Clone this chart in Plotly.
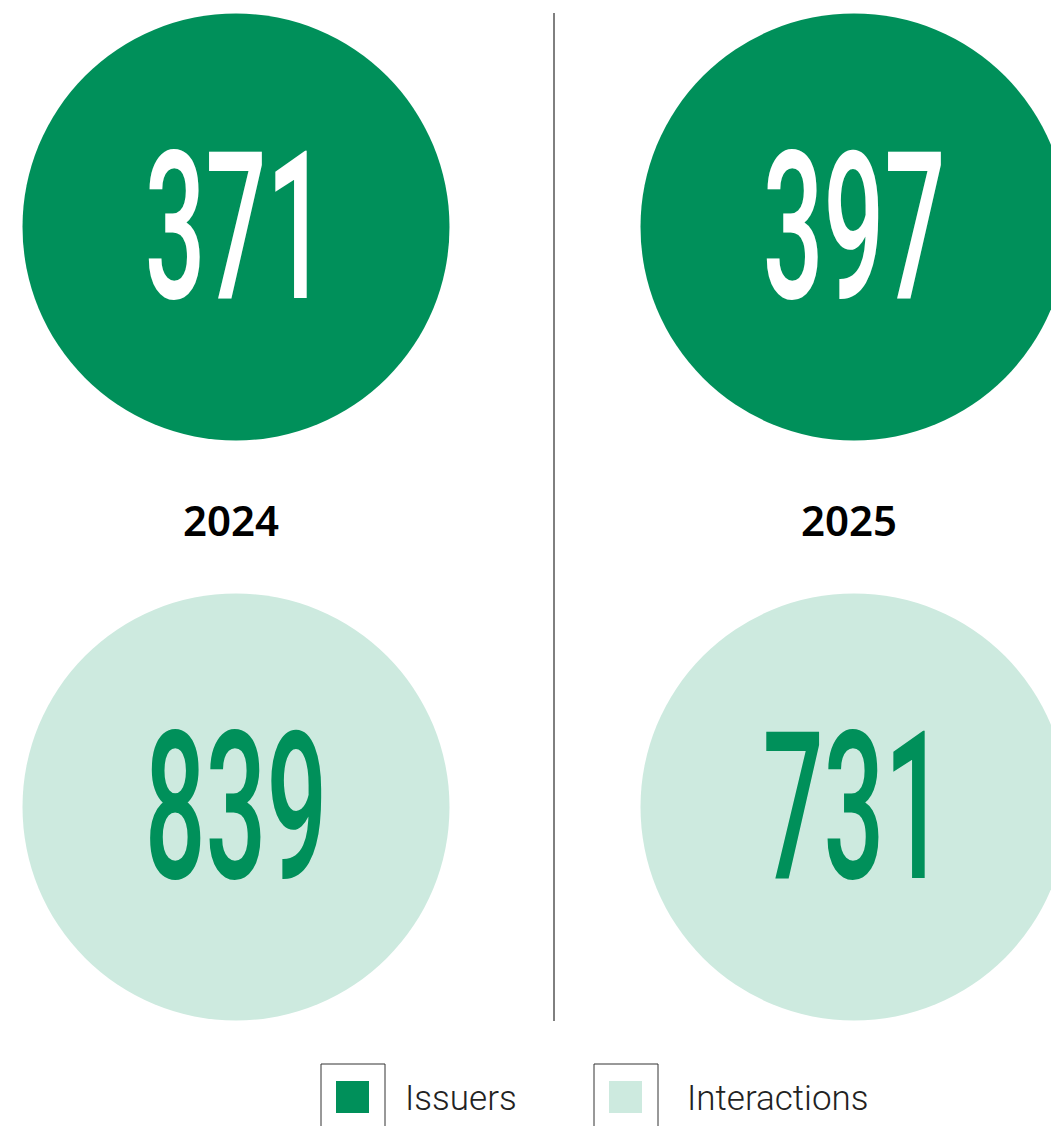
import plotly.graph_objects as go

years = ["2024", "2025"]
series_names = ["Issuers", "Interactions"]
issuers = [371, 397]
interactions = [839, 731]

DARK = "#00905A"
LIGHT = "#CDEADF"

W, H = 1059, 1126
OFF = 8  # browser body margin compensation
col_x = [236, 854]
row_y = [227, 807]
text_dy = 20
diam = 427
num_font = "Roboto, sans-serif"

fig = go.Figure()

for vals, fill, tcol, name, ry in [(issuers, DARK, "white", series_names[0], row_y[0]),
                                   (interactions, LIGHT, DARK, series_names[1], row_y[1])]:
    fig.add_trace(go.Scatter(
        x=col_x, y=[ry] * 2, mode="markers",
        marker=dict(size=diam, color=fill, line=dict(width=0)),
        name=name, hoverinfo="skip", cliponaxis=True))
    fig.add_trace(go.Scatter(
        x=col_x, y=[ry + text_dy] * 2, mode="text",
        text=[str(v) for v in vals], textposition="middle center",
        textfont=dict(family=num_font, size=206, color=tcol, weight=500),
        name=name, hoverinfo="skip", cliponaxis=False))

# year labels
for x, yr in zip(col_x, years):
    fig.add_annotation(x=x - 5, y=519, text=yr, showarrow=False,
                       font=dict(family="Noto Sans", size=42, color="black", weight=600),
                       xanchor="center", yanchor="middle")

# divider
fig.add_shape(type="line", x0=554, x1=554, y0=13, y1=1021,
              line=dict(color="black", width=1))

# legend
leg_x = [321, 594]
leg_tx = [403, 685]
for lx, tx, name, col in zip(leg_x, leg_tx, series_names, [DARK, LIGHT]):
    fig.add_shape(type="rect", x0=lx, x1=lx + 64, y0=1064, y1=1140,
                  line=dict(color="#333", width=1), fillcolor="rgba(0,0,0,0)")
    fig.add_shape(type="rect", x0=lx + 15, x1=lx + 48, y0=1081, y1=1113,
                  line=dict(width=0), fillcolor=col)
    fig.add_annotation(x=tx, y=1098, text=name, showarrow=False,
                       font=dict(family="Roboto", size=35, color="#222", weight=300),
                       xanchor="left", yanchor="middle")

fig.update_xaxes(range=[OFF, W + OFF], visible=False, fixedrange=True)
fig.update_yaxes(range=[H + OFF, OFF], visible=False, fixedrange=True)
fig.update_layout(width=W, height=H, margin=dict(l=0, r=0, t=0, b=0),
                  plot_bgcolor="white", paper_bgcolor="white", showlegend=False)

post = """
var gd = document.getElementById('{plot_id}');
gd.querySelectorAll('.textpoint text').forEach(function(t){
  var x = parseFloat(t.getAttribute('x')), y = parseFloat(t.getAttribute('y'));
  var prev = t.getAttribute('transform') || '';
  t.setAttribute('transform', prev + ' translate(' + x + ',' + y + ') scale(0.52,1) translate(' + (-x) + ',' + (-y) + ')');
});
"""

fig.write_html("out.html", post_script=post)
